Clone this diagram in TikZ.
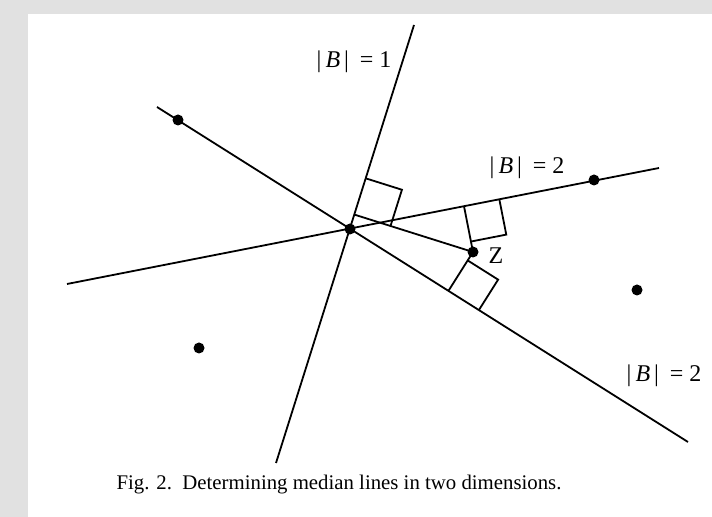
\documentclass[tikz,border=0pt]{standalone}
\usepackage{fontspec}
\setmainfont{Liberation Serif}
\usepackage{tikz}
\usetikzlibrary{calc}
\definecolor{frame}{HTML}{E1E1E1}

\begin{document}
\begin{tikzpicture}[
  x=0.5pt, y=-0.5pt,
  pt/.style={circle, fill=black, inner sep=0pt, minimum size=5.5pt},
  ln/.style={line width=0.9pt},
  lbl/.style={font=\fontsize{12}{14}\selectfont, inner sep=1pt}
]
  \fill[frame] (0,0) rectangle (712,517);
  \fill[white] (28,14) rectangle (712,517);

  % ends of the three median lines
  \coordinate (a1) at (414,25);  \coordinate (b1) at (276,463);
  \coordinate (a2) at (67,284);  \coordinate (b2) at (659,168);
  \coordinate (a3) at (157,107); \coordinate (b3) at (688,442);

  \node[pt] (c) at (350,229) {};
  \node[pt] (z) at (473,252) {};

  \draw[ln] (a1) -- (b1);
  \draw[ln] (a2) -- (b2);
  \draw[ln] (a3) -- (b3);

  % feet of the perpendiculars from Z
  \coordinate (f1) at ($(a1)!(z.center)!(b1)$);
  \coordinate (f2) at ($(a2)!(z.center)!(b2)$);
  \coordinate (f3) at ($(a3)!(z.center)!(b3)$);
  \draw[ln] (z.center) -- (f1);
  \draw[ln] (z.center) -- (f2);
  \draw[ln] (z.center) -- (f3);

  % right angle boxes
  \coordinate (s1) at ($(f1)!19pt!(a1)$); \coordinate (t1) at ($(f1)!19pt!(z.center)$);
  \coordinate (s2) at ($(f2)!18pt!(b2)$); \coordinate (t2) at ($(f2)!18pt!(z.center)$);
  \coordinate (s3) at ($(f3)!18pt!(b3)$); \coordinate (t3) at ($(f3)!18pt!(z.center)$);
  \draw[ln] (s1) -- ($(s1)+(t1)-(f1)$) -- (t1);
  \draw[ln] (s2) -- ($(s2)+(t2)-(f2)$) -- (t2);
  \draw[ln] (s3) -- ($(s3)+(t3)-(f3)$) -- (t3);

  \node[pt] (p1) at (178,120) {};
  \node[pt] (p2) at (594,180) {};
  \node[pt] (p3) at (637,290) {};
  \node[pt] (p4) at (199,348) {};

  \node[lbl] (l1) at (354,62)
    {\textbar\,\textit{B}\,\textbar\hspace{0.45em}=\hspace{0.25em}1};
  \node[lbl] (l2) at (527,168)
    {\textbar\,\textit{B}\,\textbar\hspace{0.45em}=\hspace{0.25em}2};
  \node[lbl] (l3) at (664,376)
    {\textbar\,\textit{B}\,\textbar\hspace{0.45em}=\hspace{0.25em}2};
  \node[lbl] (zl) at (496,256) {Z};

  \node[font=\fontsize{10.4}{12}\selectfont] (cap) at (339,485)
    {Fig. 2.\ \ Determining median lines in two dimensions.};
\end{tikzpicture}
\end{document}
